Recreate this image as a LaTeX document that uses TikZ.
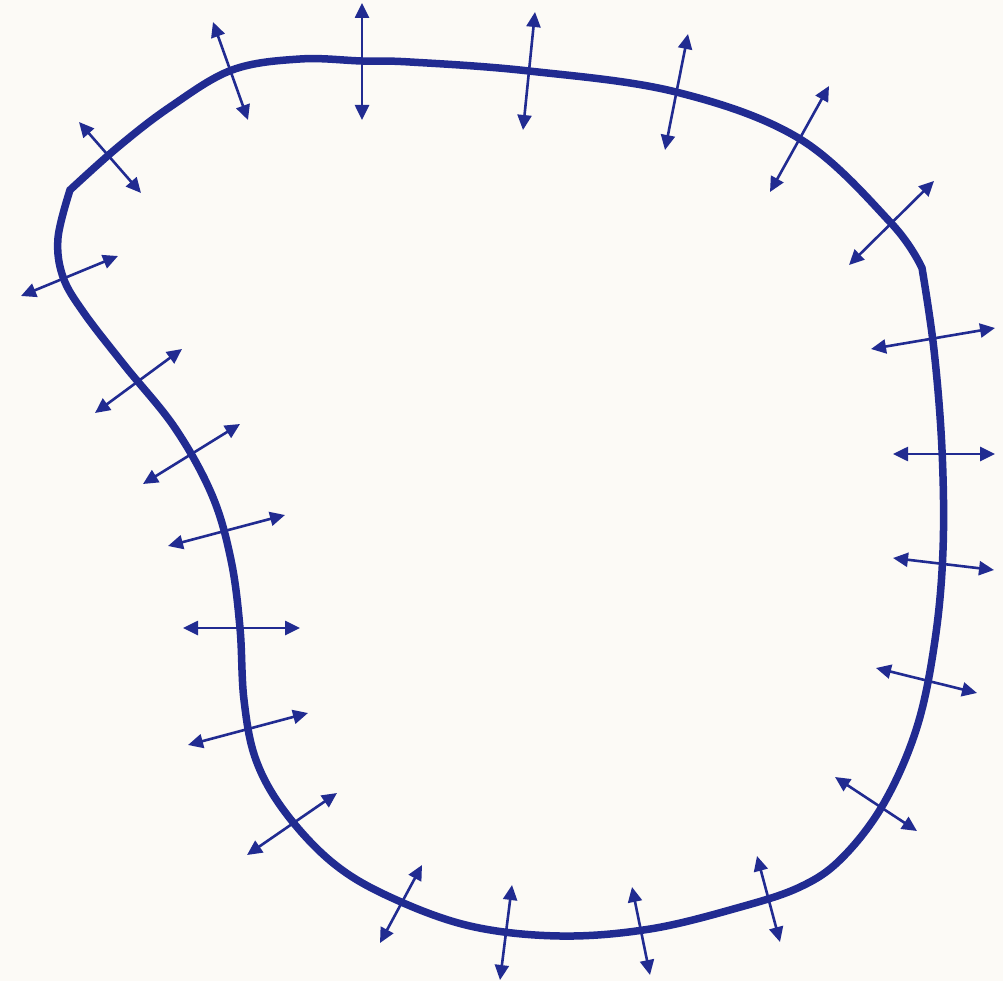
\documentclass[tikz,border=0pt]{standalone}
\usepackage{tikz}
\usetikzlibrary{arrows.meta}
\definecolor{fondo}{rgb}{0.99,0.98,0.965}
\definecolor{azulnormal}{rgb}{0.13,0.17,0.57}
\tikzset{
  contorno/.style={
    draw=azulnormal,
    line width=7.5pt,
    line join=miter
  },
  normal/.style={
    {Triangle[length=15pt,width=14pt]}-{Triangle[length=15pt,width=14pt]},
    draw=azulnormal,
    fill=azulnormal,
    line width=2.6pt
  }
}
\begin{document}
\begin{tikzpicture}[x=1pt,y=-1pt]
\fill[fondo] (0,0) rectangle (1003,981);
\useasboundingbox (0,0) rectangle (1003,981);
% contorno cerrado con dos esquinas
\draw[contorno] plot[smooth, tension=0.6] coordinates {(70,190) (118,147) (170,107) (232,70) (300,59) (362,61) (410,62) (529,71) (676,92) (800,139) (891,223) (922,268)}
  -- plot[smooth, tension=0.6] coordinates {(922,268) (934,350) (942,450) (943,550) (935,640) (917,727) (884,803) (842,858) (800,887) (737,908) (650,929) (560,936) (470,926) (390,897) (333,863) (285,812) (256,760) (244,700) (240,628) (231,560) (212,495) (175,428) (125,366) (84,313) (63,277) (58,238) (70,190)}
  -- cycle;
% vectores normales
\foreach \xa/\ya/\xb/\yb in {213/22/248/120, 362/3/362/120, 535/12/523/130, 688/34/665/150,
  829/86/770/192, 934/181/849/265, 995/328/871/349, 995/454/893/454, 994/570/893/558,
  977/693/876/668, 917/831/835/777, 757/856/780/942, 632/887/650/975, 512/885/500/980,
  422/865/380/943, 337/793/247/855, 308/713/188/745, 300/628/183/628, 285/515/168/546,
  240/424/143/484, 182/349/95/413, 118/256/21/296, 79/122/141/193}
  \draw[normal] (\xa,\ya) -- (\xb,\yb);
\end{tikzpicture}
\end{document}
